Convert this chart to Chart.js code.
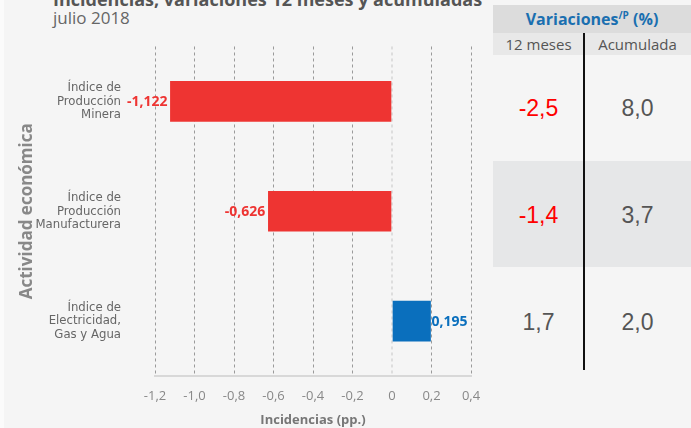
<!DOCTYPE html>
<html>
<head>
<meta charset="utf-8">
<script src="https://cdn.jsdelivr.net/npm/chart.js@4"></script>
<style>
  html, body { margin: 0; padding: 0; }
  body { width: 691px; height: 428px; background: #f5f5f5; position: relative; overflow: hidden; font-family: "Open Sans", sans-serif; }
  #edge { position: absolute; left: 0; top: 0; width: 4px; height: 428px; background: #fbfbfb; }
  #wrap { position: absolute; left: 0; top: 0; width: 493px; height: 428px; }
  .abs { position: absolute; white-space: nowrap; }
  #title { left: 53px; top: -13px; font-size: 18px; font-weight: bold; color: #555; }
  #subtitle { left: 53px; top: 6px; font-size: 17px; color: #666; }
  #tbl { position: absolute; left: 493px; top: 0; width: 198px; height: 428px; font-family: "Liberation Sans", Arial, sans-serif; }
</style>
</head>
<body>
<div id="edge"></div>
<div id="title" class="abs">Incidencias, variaciones 12 meses y acumuladas</div>
<div id="subtitle" class="abs">julio 2018</div>
<div id="wrap"><canvas id="chart" width="493" height="428"></canvas></div>
<div id="tbl"></div>
<script>
// ================= DATA =================
const categories = [
    ["Índice de", "Producción", "Minera"],
    ["Índice de", "Producción", "Manufacturera"],
    ["Índice de", "Electricidad,", "Gas y Agua"]
];
const incidencias = [-1.122, -0.626, 0.195];
const var12meses = [-2.5, -1.4, 1.7];
const varAcumulada = [8.0, 3.7, 2.0];
const xTicks = [-1.2, -1.0, -0.8, -0.6, -0.4, -0.2, 0, 0.2, 0.4];

const RED = "#ee3432";
const BLUE = "#0a6fbd";

const fmt = (v, d) => v.toFixed(d).replace(".", ",");

// ================= DATA LABELS =================
const barLabels = {
    id: "barLabels",
    afterDatasetsDraw(chart) {
        const ctx = chart.ctx;
        const meta = chart.getDatasetMeta(0);
        ctx.save();
        ctx.font = "bold 14px 'Open Sans', sans-serif";
        ctx.textBaseline = "middle";
        meta.data.forEach((bar, i) => {
            const v = incidencias[i];
            const txt = fmt(v, 3);
            if (v < 0) {
                ctx.fillStyle = RED;
                ctx.textAlign = "right";
                ctx.fillText(txt, bar.x - 3, bar.y + 1);
            } else {
                ctx.fillStyle = BLUE;
                ctx.textAlign = "left";
                ctx.fillText(txt, bar.x + 1, bar.y + 1);
            }
        });
        ctx.restore();
    }
};

// ================= CHART =================
new Chart(document.getElementById("chart"), {
    type: "bar",
    data: {
        labels: categories,
        datasets: [{
            data: incidencias,
            backgroundColor: incidencias.map(v => v < 0 ? RED : BLUE),
            barThickness: 40
        }]
    },
    options: {
        indexAxis: "y",
        responsive: false,
        animation: false,
        layout: { padding: { top: 36, right: 22, left: 17, bottom: 0 } },
        plugins: { legend: { display: false }, tooltip: { enabled: false } },
        scales: {
            x: {
                min: -1.2,
                max: 0.4,
                afterBuildTicks: s => { s.ticks = xTicks.map(v => ({ value: v })); },
                afterFit: s => { s.height = 52; },
                ticks: {
                    color: "#888",
                    font: { size: 13, family: "'Open Sans', sans-serif" },
                    padding: 12,
                    callback: v => v === 0 ? "0" : fmt(v, 1)
                },
                grid: {
                    drawTicks: false,
                    color: ctx => ctx.tick && ctx.tick.value === 0 ? "#dddddd" : "#9a9a9a",
                    lineWidth: ctx => ctx.tick && ctx.tick.value === 0 ? 2 : 1
                },
                border: { display: true, color: "#d8d8d8", width: 2, dash: [3, 3] },
                title: {
                    display: true,
                    text: "Incidencias (pp.)",
                    color: "#777",
                    font: { size: 13, weight: "bold", family: "'Open Sans', sans-serif" },
                    padding: { top: 6, bottom: 0 }
                }
            },
            y: {
                afterFit: s => { s.width = 138; },
                ticks: {
                    color: "#666",
                    font: { size: 13, family: "'Liberation Sans Narrow', 'DejaVu Sans Condensed', sans-serif", lineHeight: 1.05 },
                    padding: 26
                },
                grid: { display: false },
                border: { display: false },
                title: {
                    display: true,
                    text: "Actividad económica",
                    color: "#888",
                    font: { size: 17, weight: "bold", family: "'Open Sans', sans-serif" },
                    padding: { top: 0, bottom: 2 }
                }
            }
        }
    },
    plugins: [barLabels]
});

// ================= TABLE =================
(function buildTable() {
    const t = document.getElementById("tbl");
    let html = "";
    html += `<div class="abs" style="left:0;top:5px;width:198px;height:28px;background:#dcdcdc;"></div>`;
    html += `<div class="abs" style="left:0;top:8px;width:198px;text-align:center;font-family:'Open Sans',sans-serif;font-weight:bold;font-size:16px;color:#1a6fb0;">Variaciones<sup style="font-size:10px;">/P</sup> (%)</div>`;
    html += `<div class="abs" style="left:0;top:33px;width:198px;height:22px;background:#e8e8e8;"></div>`;
    html += `<div class="abs" style="left:0;top:34px;width:91px;text-align:center;font-family:'Open Sans',sans-serif;font-size:15px;color:#555;">12 meses</div>`;
    html += `<div class="abs" style="left:91px;top:34px;width:107px;text-align:center;font-family:'Open Sans',sans-serif;font-size:15px;color:#555;">Acumulada</div>`;
    html += `<div class="abs" style="left:0;top:161px;width:198px;height:106px;background:#e6e7e8;"></div>`;
    const rowY = [95, 202, 309];
    rowY.forEach((y, i) => {
        const c1 = var12meses[i] < 0 ? "#ff0000" : "#555";
        html += `<div class="abs" style="left:0;top:${y}px;width:91px;text-align:center;font-size:23px;color:${c1};">${fmt(var12meses[i], 1)}</div>`;
        html += `<div class="abs" style="left:91px;top:${y}px;width:107px;text-align:center;font-size:23px;color:#555;">${fmt(varAcumulada[i], 1)}</div>`;
    });
    html += `<div class="abs" style="left:90px;top:33px;width:1.5px;height:337px;background:#111;"></div>`;
    t.innerHTML = html;
})();
</script>
</body>
</html>
